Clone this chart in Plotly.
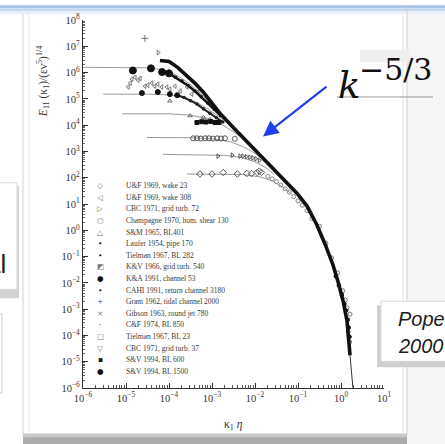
import plotly.graph_objects as go

# ---------------- data (log10 units) ----------------
# collapsed band of high-Re spectra (log10 k1*eta, log10 E11/(eps nu^5)^(1/4))
band_lk = [-4.21, -4.00, -3.80, -3.60, -3.40, -3.20, -3.00, -2.80, -2.50, -2.20, -2.00, -1.72,
           -1.35, -1.02, -0.79, -0.56, -0.37, -0.19, -0.07, 0.05, 0.14, 0.19, 0.21]
band_lE = [6.46, 6.42, 6.20, 5.90, 5.60, 5.25, 4.85, 4.42, 3.90, 3.40, 3.05, 2.58,
           1.96, 1.40, 0.92, 0.20, -0.53, -1.30, -1.95, -2.70, -3.45, -4.30, -4.76]
tail_lk = [0.21, 0.25, 0.30]
tail_lE = [-4.76, -5.50, -6.40]

# model spectra (thin grey lines) for six Reynolds numbers
model_lk = [
    [-6.00, -5.00, -4.50, -4.20, -3.95, -3.70, -3.45, -3.20, -3.00],
    [-5.53, -4.50, -4.00, -3.70, -3.40, -3.10, -2.80, -2.55],
    [-5.09, -4.00, -3.50, -3.10, -2.80, -2.50, -2.25],
    [-4.51, -3.50, -3.00, -2.60, -2.30, -2.05, -1.85],
    [-4.14, -3.20, -2.70, -2.30, -2.00, -1.75, -1.55],
    [-3.58, -2.80, -2.30, -1.90, -1.60, -1.35, -1.15],
]
model_lE = [
    [6.20, 6.20, 6.18, 6.12, 6.00, 5.78, 5.48, 5.10, 4.78],
    [5.18, 5.18, 5.15, 5.07, 4.90, 4.62, 4.28, 3.95],
    [4.43, 4.43, 4.38, 4.25, 4.05, 3.75, 3.45],
    [3.53, 3.52, 3.48, 3.38, 3.20, 2.98, 2.75],
    [2.89, 2.88, 2.85, 2.77, 2.60, 2.38, 2.12],
    [2.14, 2.14, 2.12, 2.04, 1.88, 1.64, 1.38],
]

# S&V 1994, BL 1500
sv1500_lk = [-4.84, -4.42, -4.16, -4.00]
sv1500_lE = [6.08, 6.16, 6.02, 5.97]
sv1500c_lk = [-4.00, -3.85, -3.70, -3.55, -3.40, -3.25, -3.10, -2.95, -2.80]
sv1500c_lE = [5.97, 5.82, 5.68, 5.50, 5.30, 5.08, 4.84, 4.60, 4.36]
# S&V 1994, BL 600
sv600_lk = [-4.63, -4.26, -3.98, -3.81]
sv600_lE = [5.22, 5.26, 5.18, 5.14]
sv600c_lk = [-3.81, -3.65, -3.50, -3.35, -3.20, -3.05, -2.90, -2.75]
sv600c_lE = [5.14, 5.05, 4.93, 4.80, 4.62, 4.45, 4.28, 4.12]
# K&A 1991, channel 53
ka_lk = [-3.35, -3.24, -3.14, -3.03, -2.93, -2.84]
ka_lE = [4.10, 4.13, 4.12, 4.14, 4.10, 4.10]
# wakes (U&F 1969)
wake_lk = [-4.95, -4.90, -4.86, -4.79, -4.72, -4.67, -4.56, -4.49, -4.40, -4.33, -4.26, -4.17,
           -4.05, -3.98, -3.86, -3.74, -3.58, -3.47, -3.33]
wake_lE = [5.45, 5.60, 5.75, 5.82, 5.71, 5.78, 5.48, 5.52, 5.60, 5.48, 5.56, 5.45,
           5.45, 5.37, 5.48, 5.30, 5.45, 5.18, 5.26]
# S&M 1965 BL401 and others near 10^4.4
sm_lk = [-3.98, -3.51, -3.20, -3.05]
sm_lE = [4.92, 4.36, 4.30, 4.22]
# Champagne 1970, hom. shear
ch_lk = [-3.44, -3.35, -3.26, -3.16, -3.07, -2.98, -2.88, -2.79, -2.70, -2.47]
ch_lE = [3.50, 3.50, 3.49, 3.50, 3.50, 3.49, 3.50, 3.49, 3.50, 3.48]
# CBC 1971 grid turb. 72 / K&V
cbc_lk = [-2.86, -2.53, -2.35, -2.28, -2.20, -2.12, -2.05, -1.98, -1.90]
cbc_lE = [2.82, 2.86, 2.82, 2.82, 2.80, 2.78, 2.75, 2.72, 2.66]
# U&F wake 23 / Tielman BL 23
uf_lk = [-3.28, -3.00, -2.74, -2.41, -2.19, -2.08, -1.95, -1.90, -1.85]
uf_lE = [2.14, 2.14, 2.20, 2.14, 2.16, 2.16, 2.20, 2.25, 2.20]
# low-Re points just below the band
low_lk = [-1.70, -1.60, -1.50, -1.40, -1.30, -1.20, -1.10, -1.00, -0.90, -0.79, -0.68]
low_lE = [2.05, 1.95, 1.85, 1.72, 1.58, 1.45, 1.28, 1.12, 0.95, 0.75, 0.45]
# dissipation-range scatter
hk_lk = [-0.50, -0.35, -0.22, -0.08, 0.04, 0.10, 0.14, 0.21, 0.17, 0.20]
hk_lE = [0.15, -0.50, -1.05, -1.62, -2.30, -2.65, -2.95, -3.19, -3.85, -4.25]
hkb_lk = [-0.12, -0.05, 0.02, 0.08, 0.12, 0.16, 0.18, 0.20]
hkb_lE = [-1.75, -2.10, -2.45, -2.80, -3.05, -3.40, -3.70, -4.05]
# isolated points at top
grant_lk = [-4.56]
grant_lE = [7.30]
cbc37_lk = [-4.25]
cbc37_lE = [6.76]

xtick_vals = [1e-6, 1e-5, 1e-4, 1e-3, 1e-2, 1e-1, 1e0, 1e1]
xtick_text = ["10<sup>−6</sup>", "10<sup>−5</sup>", "10<sup>−4</sup>", "10<sup>−3</sup>",
              "10<sup>−2</sup>", "10<sup>−1</sup>", "10<sup>0</sup>", "10<sup>1</sup>"]
ytick_vals = [1e-6, 1e-5, 1e-4, 1e-3, 1e-2, 1e-1, 1e0, 1e1, 1e2, 1e3, 1e4, 1e5, 1e6, 1e7, 1e8]
ytick_text = ["10<sup>−6</sup>", "10<sup>−5</sup>", "10<sup>−4</sup>", "10<sup>−3</sup>",
              "10<sup>−2</sup>", "10<sup>−1</sup>", "10<sup>0</sup>", "10<sup>1</sup>",
              "10<sup>2</sup>", "10<sup>3</sup>", "10<sup>4</sup>", "10<sup>5</sup>",
              "10<sup>6</sup>", "10<sup>7</sup>", "10<sup>8</sup>"]

legend_labels = ["U&F 1969, wake 23", "U&F 1969, wake 308", "CBC 1971, grid turb. 72",
                 "Champagne 1970, hom. shear 130", "S&M 1965, BL401", "Laufer 1954, pipe 170",
                 "Tielman 1967, BL 282", "K&V 1966, grid turb. 540", "K&A 1991, channel 53",
                 "CAHI 1991, return channel 3180", "Grant 1962, tidal channel 2000",
                 "Gibson 1963, round jet 780", "C&F 1974, BL 850", "Tielman 1967, BL 23",
                 "CBC 1971, grid turb. 37", "S&V 1994, BL 600", "S&V 1994, BL 1500"]
legend_symbols = ["◇", "◁", "▷", "○", "△", "•", "•", "◩", "●", "•", "+", "×", "·", "□", "▽", "▪", "●"]
legend_dark = [False, False, False, False, False, True, True, False, True, True, False, False,
               True, False, False, True, True]


def P(v):
    return [10 ** a for a in v]


fig = go.Figure()
GREY = "#9a9a9a"
for lk, lE in zip(model_lk, model_lE):
    fig.add_trace(go.Scatter(x=P(lk), y=P(lE), mode="lines",
                             line=dict(color=GREY, width=1), hoverinfo="skip"))


def pts(lk, lE, symbol, size, color, lw=1, fill=None):
    fig.add_trace(go.Scatter(x=P(lk), y=P(lE), mode="markers",
                             marker=dict(symbol=symbol, size=size, color=fill or color,
                                         line=dict(color=color, width=lw))))


pts(wake_lk, wake_lE, "triangle-left-open", 4, "#777")
pts(sm_lk, sm_lE, "triangle-up-open", 4, "#666")
pts(ch_lk, ch_lE, "circle-open", 5, "#555")
pts(cbc_lk, cbc_lE, "triangle-right-open", 4, "#555")
pts(uf_lk, uf_lE, "diamond-open", 5, "#555")
pts(low_lk, low_lE, "circle-open", 4, "#888")
pts(hk_lk, hk_lE, "circle-open", 4, "#777")
pts(grant_lk, grant_lE, "cross-thin-open", 5, "#777")
pts(cbc37_lk, cbc37_lE, "triangle-right-open", 4, "#777")

# band and data chains
fig.add_trace(go.Scatter(x=P(band_lk), y=P(band_lE), mode="lines",
                         line=dict(color="#111", width=3.6), hoverinfo="skip"))
fig.add_trace(go.Scatter(x=P(tail_lk), y=P(tail_lE), mode="lines",
                         line=dict(color="#333", width=1), hoverinfo="skip"))
fig.add_trace(go.Scatter(x=P(sv1500c_lk), y=P(sv1500c_lE), mode="lines+markers",
                         line=dict(color="#111", width=2.5),
                         marker=dict(size=3.5, color="#111")))
fig.add_trace(go.Scatter(x=P(sv600c_lk), y=P(sv600c_lE), mode="lines+markers",
                         line=dict(color="#222", width=2),
                         marker=dict(size=3.5, color="#222")))
pts(sv1500_lk, sv1500_lE, "circle", 7, "#111")
pts(sv600_lk, sv600_lE, "circle", 5, "#111")
pts(ka_lk, ka_lE, "square", 4, "#111")
pts(hkb_lk, hkb_lE, "circle", 3.5, "#111")

# ---------------- layout helpers (pixel -> paper) ----------------
L, R, T, B = 83, 61, 15, 56
W, H = 445, 444
PW, PH = W - L - R, H - T - B


def X(p):
    return (p - L) / PW


def Y(p):
    return (H - B - p) / PH


shapes = []


def rect(x0, y0, x1, y1, fill, line=None, layer="below", lw=1):
    shapes.append(dict(type="rect", xref="paper", yref="paper",
                       x0=X(x0), x1=X(x1), y0=Y(y1), y1=Y(y0), fillcolor=fill,
                       line=dict(color=line if line else fill, width=lw if line else 0),
                       layer=layer))


def seg(x0, y0, x1, y1, color, w=1, layer="below"):
    shapes.append(dict(type="line", xref="paper", yref="paper",
                       x0=X(x0), x1=X(x1), y0=Y(y0), y1=Y(y1),
                       line=dict(color=color, width=w), layer=layer))


# slide background pieces
rect(407, 0, 450, 450, "#f6f6f6")
rect(-5, 0, 450, 3, "#abc3e4")
rect(-5, 3, 450, 6, "#c8d8ee")
rect(-5, 6, 450, 9, "#e8eff8")
seg(23, 9, 23, 436, "#d0d0d0")
seg(29, 9, 29, 434, "#e6e6e6")
seg(403, 9, 403, 434, "#e2e2e2")
seg(407, 0, 407, 436, "#cfcfcf")
rect(23, 434, 407, 450, "#c9c9c9")
rect(23, 438, 407, 450, "#ababab")
rect(-5, 183, 19, 297, "#d2d2d2")
rect(-5, 180, 17, 288, "white", line="#d9d9d9")
rect(-8, 313, 2, 393, "white", line="#cfcfcf")
rect(360, 45, 410, 58, "#efefef")
seg(337, 93, 433, 93, "#9a9a9a")
rect(377, 304, 452, 367, "#cfcfcf", layer="above")
rect(381, 300, 452, 361, "white", line="#d6d6d6", layer="above")

ann = []


def text(x, y, s, size, color="#222", family="Liberation Serif", xanchor="left",
         yanchor="middle", angle=0):
    ann.append(dict(xref="paper", yref="paper", x=X(x), y=Y(y), text=s, showarrow=False,
                    xanchor=xanchor, yanchor=yanchor, textangle=angle,
                    font=dict(family=family, size=size, color=color)))


# legend
for i, (lab, sym, dark) in enumerate(zip(legend_labels, legend_symbols, legend_dark)):
    yy = 183 + i * 11.75
    text(100, yy, sym, 7.5, "#111" if dark else "#777", "DejaVu Sans", xanchor="center")
    text(124, yy, lab, 7.5, "#3a3a3a")

# axis titles
text(43, 78, "<i>E</i><sub>11</sub> (κ<sub>1</sub>)/(εν<sup>5</sup>)<sup>1/4</sup>", 11.5,
     "#333", xanchor="center", angle=-90)
text(233, 425, "κ<sub>1</sub> <i>η</i>", 11.5, "#333", xanchor="center")

# k^-5/3 label and arrow
text(336, 81, "<i>k</i>", 37, "#111", "DejaVu Serif")
text(357, 65, "−5/3", 30, "#111", "DejaVu Serif")
ann.append(dict(xref="paper", yref="paper", x=X(263), y=Y(133), ax=65, ay=-51, text="",
                showarrow=True, arrowhead=2, arrowsize=1.4, arrowwidth=2.2,
                arrowcolor="#1d3ff0"))
# Pope 2000 box text
text(396, 318, "<i>Pope</i>", 20, "#1a1a1a", "Liberation Sans")
text(396, 345, "<i>2000</i>", 20, "#1a1a1a", "Liberation Sans")
# partial word on the left box (cut by the slide edge as in the original)
text(8, 262, "al", 26, "#222", "Liberation Sans", xanchor="right")

minor_x = [m * 10.0 ** e for e in range(-6, 1) for m in range(2, 10)]
minor_y = [m * 10.0 ** e for e in range(-6, 8) for m in range(2, 10)]

axis_common = dict(type="log", ticks="inside", ticklen=5, tickwidth=1, tickcolor="#333",
                   showline=True, linecolor="#333", linewidth=1.3, showgrid=False,
                   zeroline=False, tickmode="array",
                   tickfont=dict(family="Liberation Serif", size=10.5, color="#333"))

fig.update_layout(
    width=W, height=H, margin=dict(l=L, r=R, t=T, b=B, pad=0),
    paper_bgcolor="white", plot_bgcolor="white", showlegend=False,
    xaxis=dict(range=[-6, 1], tickvals=xtick_vals, ticktext=xtick_text,
               minor=dict(tickmode="array", tickvals=minor_x, ticks="inside", ticklen=3,
                          tickcolor="#555", showgrid=False),
               **axis_common),
    yaxis=dict(range=[-6, 8], tickvals=ytick_vals, ticktext=ytick_text,
               minor=dict(tickmode="array", tickvals=minor_y, ticks="inside", ticklen=2,
                          tickcolor="#666", showgrid=False),
               **axis_common),
    shapes=shapes, annotations=ann,
)

fig.write_html("out.html", config={"displayModeBar": False},
               post_script="document.body.style.margin='0';")
